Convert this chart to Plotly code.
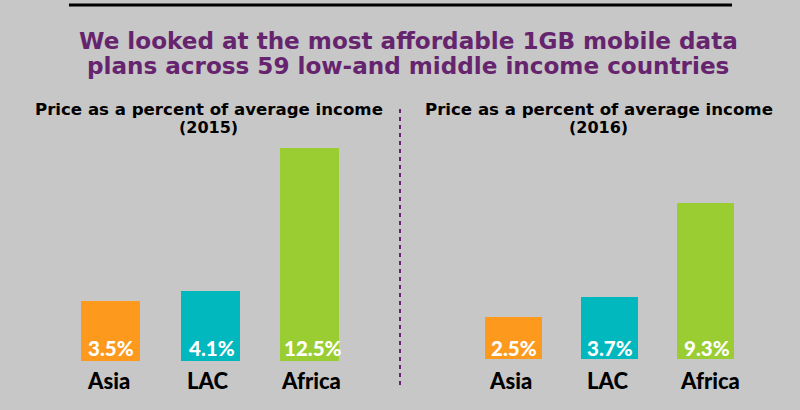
import plotly.graph_objects as go

regions = ["Asia", "LAC", "Africa"]
values_2015 = [3.5, 4.1, 12.5]
values_2016 = [2.5, 3.7, 9.3]
bar_colors = ["#FD9A1E", "#00B8BD", "#9ACD32"]
title_lines = ["We looked at the most affordable 1GB mobile data",
               "plans across 59 low-and middle income countries"]
subtitle = "Price as a percent of average income"
years = ["(2015)", "(2016)"]

W, H = 800, 410
BG = "#C7C7C7"
PURPLE = "#66246E"
HEAD = "DejaVu Sans"
LABEL = "Lato"

def px(x):
    return x / W

def py(y):
    return 1 - y / H

fig = go.Figure()
fig.add_trace(go.Bar(x=regions, y=values_2015, marker=dict(color=bar_colors, line=dict(width=0)),
                     width=0.593, xaxis="x", yaxis="y", hoverinfo="x+y"))
fig.add_trace(go.Bar(x=regions, y=values_2016, marker=dict(color=bar_colors, line=dict(width=0)),
                     width=0.592, xaxis="x2", yaxis="y2", hoverinfo="x+y"))

annotations = []
for i, line in enumerate(title_lines):
    annotations.append(dict(xref="paper", yref="paper", x=px(408), y=py(41 + 25 * i), text=f"<b>{line}</b>",
                            showarrow=False, xanchor="center", yanchor="middle",
                            font=dict(family=HEAD, size=23.1, color=PURPLE)))
for cx, year in zip((208.5, 598.5), years):
    annotations.append(dict(xref="paper", yref="paper", x=px(cx), y=py(109), text=f"<b>{subtitle}</b>",
                            showarrow=False, xanchor="center", yanchor="middle",
                            font=dict(family=HEAD, size=16.6, color="#000")))
    annotations.append(dict(xref="paper", yref="paper", x=px(cx), y=py(127.5), text=f"<b>{year}</b>",
                            showarrow=False, xanchor="center", yanchor="middle",
                            font=dict(family=HEAD, size=16, color="#000")))
for xref, yref, vals, yshift, xshifts, tick_shifts, tick_y in (
        ("x", "y", values_2015, 13, (0.5, 2, 3.5), (-1.8, -2.3, 1.5), -19),
        ("x2", "y2", values_2016, 11, (0.5, 0.5, 1), (-2.8, -2.8, 4), -21)):
    for r, v, xs, ts in zip(regions, vals, xshifts, tick_shifts):
        annotations.append(dict(xref=xref, yref=yref, x=r, y=0, text=f"{v}%", showarrow=False,
                                xanchor="center", yanchor="middle", xshift=xs, yshift=yshift,
                                font=dict(family=LABEL, size=20.5, color="#FFF", weight=900)))
        annotations.append(dict(xref=xref, yref=yref, x=r, y=0, text=r, showarrow=False,
                                xanchor="center", yanchor="middle", xshift=ts, yshift=tick_y,
                                font=dict(family=LABEL, size=22, color="#000", weight=900)))

axis_x = dict(type="category", categoryorder="array", categoryarray=regions, showgrid=False, showline=False,
              zeroline=False, ticks="", showticklabels=False, range=[-0.5, 2.5])
axis_y = dict(visible=False, range=[0, 14], fixedrange=True)

fig.update_layout(
    width=W, height=H, autosize=False, margin=dict(l=0, r=0, t=0, b=0), showlegend=False,
    paper_bgcolor=BG, plot_bgcolor="rgba(0,0,0,0)", bargap=0,
    xaxis=dict(axis_x, domain=[px(60.75), px(359.25)], anchor="y"),
    yaxis=dict(axis_y, domain=[py(361), py(122.4)], anchor="x"),
    xaxis2=dict(axis_x, domain=[px(465.4), px(754.2)], anchor="y2"),
    yaxis2=dict(axis_y, domain=[py(359), py(123.6)], anchor="x2"),
    annotations=annotations,
    shapes=[
        dict(type="line", xref="paper", yref="paper", x0=px(69), x1=px(732), y0=py(5), y1=py(5),
             line=dict(color="#000", width=3)),
        dict(type="line", xref="paper", yref="paper", x0=px(400), x1=px(400), y0=py(109), y1=py(385),
             line=dict(color=PURPLE, width=2, dash="4px,4px")),
    ],
)

fig.write_html("out.html", config=dict(displayModeBar=False),
               post_script="document.body.style.margin='0';document.body.style.background='#C7C7C7';")
